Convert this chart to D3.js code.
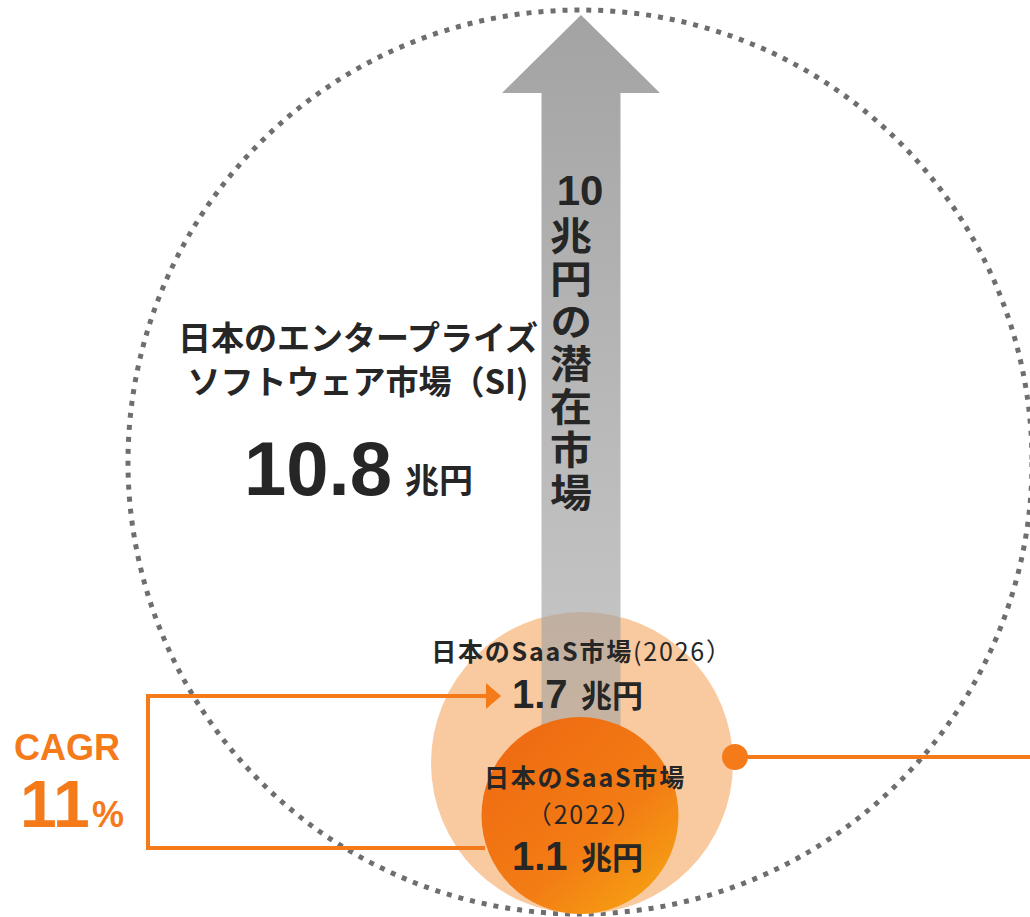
<!DOCTYPE html>
<html><head><meta charset="utf-8">
<script src="https://cdn.jsdelivr.net/npm/d3@7"></script>
<style>
html,body{margin:0;padding:0;background:#fff;}
svg{display:block;}
</style></head>
<body>
<svg id="chart" width="1030" height="917"></svg>
<script>
// ---- data ----
const categories = ["SI", "SaaS2026", "SaaS2022"];
const values = [10.8, 1.7, 1.1];            // 兆円
const potentialValue = 10;                  // 兆円の潜在市場
const cagr = 11;                            // %
const siTitle = ["日本のエンタープライズ", "ソフトウェア市場（SI)"];
const saasTitle = "日本のSaaS市場";
const years = ["(2026）", "（2022）"];
const unit = "兆円";
const potentialText = "兆円の潜在市場";

// ---- setup ----
const svg = d3.select("#chart");
const W = 1030, H = 917;
const cx = 580, bottom = 914;
const orange = "#F47A1A", dark = "#262626";
const jp = "'Noto Sans CJK JP','Noto Sans',sans-serif";
const num = "'Liberation Sans',Arial,sans-serif";

const rScale = d3.scaleLinear().domain([values[2], values[1], values[0]]).range([98.5, 151, 452]);
const R = values.map(v => rScale(v));
const CY = R.map(r => bottom - r);

const defs = svg.append("defs");
const gShaft = defs.append("linearGradient").attr("id", "gShaft").attr("x1", 0).attr("y1", 0).attr("x2", 0).attr("y2", 1);
gShaft.append("stop").attr("offset", 0).attr("stop-color", "#a3a3a3").attr("stop-opacity", 1);
gShaft.append("stop").attr("offset", 0.6).attr("stop-color", "#a5a5a5").attr("stop-opacity", 0.75);
gShaft.append("stop").attr("offset", 1).attr("stop-color", "#a0a0a0").attr("stop-opacity", 0.55);
const gDark = defs.append("linearGradient").attr("id", "gDark").attr("x1", 0.2).attr("y1", 0.1).attr("x2", 0.95).attr("y2", 0.95);
gDark.append("stop").attr("offset", 0).attr("stop-color", "#EF6C12");
gDark.append("stop").attr("offset", 0.55).attr("stop-color", "#F37C14");
gDark.append("stop").attr("offset", 1).attr("stop-color", "#F6A513");

// big dotted circle (SI)
svg.append("circle").attr("cx", cx).attr("cy", CY[0]).attr("r", R[0])
  .attr("fill", "none").attr("stroke", "#6e6e6e").attr("stroke-width", 5)
  .attr("stroke-dasharray", "5 7");

// peach circle (SaaS 2026)
svg.append("circle").attr("cx", cx + 2).attr("cy", CY[1]).attr("r", R[1])
  .attr("fill", "#F9CAA0");

// arrow
const tipY = 15, headY = 93, shaftBottom = 770;
const headHalf = 79, shaftHalf = 39.5;
const arrowPath = d3.path();
arrowPath.moveTo(cx + 1, tipY);
arrowPath.lineTo(cx + 1 + headHalf, headY);
arrowPath.lineTo(cx + 1 + shaftHalf, headY);
arrowPath.lineTo(cx + 1 + shaftHalf, shaftBottom);
arrowPath.lineTo(cx + 1 - shaftHalf, shaftBottom);
arrowPath.lineTo(cx + 1 - shaftHalf, headY);
arrowPath.lineTo(cx + 1 - headHalf, headY);
arrowPath.closePath();
svg.append("path").attr("d", arrowPath.toString()).attr("fill", "url(#gShaft)");

// dark circle (SaaS 2022)
svg.append("circle").attr("cx", cx).attr("cy", CY[2]).attr("r", R[2])
  .attr("fill", "url(#gDark)");

// CAGR connector
const conn = d3.line();
svg.append("path")
  .attr("d", conn([[cx - 95, 848], [148, 848], [148, 696], [490, 696]]))
  .attr("fill", "none").attr("stroke", orange).attr("stroke-width", 4);
svg.append("path")
  .attr("d", conn([[486, 683], [501, 696], [486, 709]]) + "Z")
  .attr("fill", orange);

// right connector
svg.append("line").attr("x1", 735).attr("y1", 757).attr("x2", W).attr("y2", 757)
  .attr("stroke", orange).attr("stroke-width", 4);
svg.append("circle").attr("cx", 735).attr("cy", 757).attr("r", 13).attr("fill", orange);

// SI text
svg.append("text").attr("x", 358).attr("y", 350).attr("text-anchor", "middle")
  .attr("font-family", jp).attr("font-weight", 700).attr("font-size", 33).attr("fill", dark)
  .text(siTitle[0]);
svg.append("text").attr("x", 358).attr("y", 394).attr("text-anchor", "middle")
  .attr("font-family", jp).attr("font-weight", 700).attr("font-size", 33).attr("fill", dark)
  .text(siTitle[1]);
svg.append("text").attr("x", 244).attr("y", 495)
  .attr("font-family", num).attr("font-weight", 700).attr("font-size", 76).attr("fill", dark)
  .text(d3.format(".1f")(values[0]));
svg.append("text").attr("x", 405).attr("y", 493)
  .attr("font-family", jp).attr("font-weight", 700).attr("font-size", 34).attr("fill", dark)
  .text(unit);

// vertical potential text
svg.append("text").attr("x", cx).attr("y", 205).attr("text-anchor", "middle")
  .attr("font-family", num).attr("font-weight", 700).attr("font-size", 42).attr("fill", dark)
  .text(potentialValue);
svg.append("g").attr("transform", "translate(571,216) scale(1,0.92)")
  .append("text").attr("x", 0).attr("y", 0)
  .style("writing-mode", "vertical-rl")
  .attr("letter-spacing", 4.5)
  .attr("font-family", jp).attr("font-weight", 700).attr("font-size", 42).attr("fill", dark)
  .text(potentialText);

// SaaS 2026 text
const t26 = svg.append("text").attr("x", cx + 2).attr("y", 661).attr("text-anchor", "middle")
  .attr("font-family", jp).attr("font-size", 25).attr("letter-spacing", 1.8).attr("fill", dark);
t26.append("tspan").attr("font-weight", 700).text(saasTitle);
t26.append("tspan").attr("font-weight", 400).text(years[0]);
svg.append("text").attr("x", 512).attr("y", 708)
  .attr("font-family", num).attr("font-weight", 700).attr("font-size", 40).attr("fill", dark)
  .text(d3.format(".1f")(values[1]));
svg.append("text").attr("x", 581).attr("y", 707)
  .attr("font-family", jp).attr("font-weight", 700).attr("font-size", 31).attr("fill", dark)
  .text(unit);

// SaaS 2022 text
svg.append("text").attr("x", cx + 5).attr("y", 787).attr("text-anchor", "middle")
  .attr("font-family", jp).attr("font-weight", 700).attr("font-size", 25).attr("letter-spacing", 1.8).attr("fill", dark)
  .text(saasTitle);
svg.append("text").attr("x", cx + 5).attr("y", 824).attr("text-anchor", "middle")
  .attr("font-family", jp).attr("font-weight", 400).attr("font-size", 25).attr("letter-spacing", 1.8).attr("fill", dark)
  .text(years[1]);
svg.append("text").attr("x", 512).attr("y", 870)
  .attr("font-family", num).attr("font-weight", 700).attr("font-size", 40).attr("fill", dark)
  .text(d3.format(".1f")(values[2]));
svg.append("text").attr("x", 581).attr("y", 869)
  .attr("font-family", jp).attr("font-weight", 700).attr("font-size", 31).attr("fill", dark)
  .text(unit);

// CAGR text
svg.append("text").attr("x", 14).attr("y", 760)
  .attr("font-family", num).attr("font-weight", 700).attr("font-size", 36).attr("fill", orange)
  .text("CAGR");
svg.append("text").attr("x", 20).attr("y", 827)
  .attr("font-family", num).attr("font-weight", 700).attr("font-size", 66).attr("fill", orange)
  .text(cagr);
svg.append("text").attr("x", 92).attr("y", 827)
  .attr("font-family", num).attr("font-weight", 700).attr("font-size", 36).attr("fill", orange)
  .text("%");
</script>
</body></html>
